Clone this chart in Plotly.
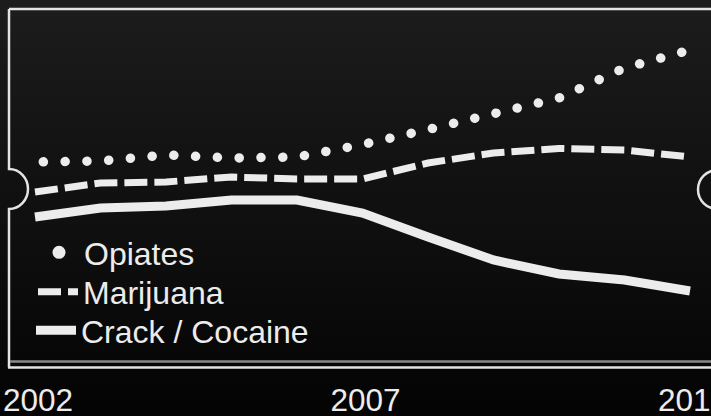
import plotly.graph_objects as go

# ---- data (arbitrary index units) ----
years = [2002, 2003, 2004, 2005, 2006, 2007, 2008, 2009, 2010, 2011, 2012]
opiates = [21.8, 21.9, 22.5, 22.2, 22.3, 23.55, 25.05, 26.6, 28.2, 31.2, 33.0]
marijuana = [18.8, 19.7, 19.8, 20.3, 20.1, 20.1, 21.7, 22.7, 23.15, 23.0, 22.3]
crack_cocaine = [16.3, 17.2, 17.4, 18.0, 18.0, 16.7, 14.3, 12.0, 10.6, 10.0, 8.9]
tick_years = [2002, 2007, 2012]
tick_labels = ["2002", "2007", "2012"]
series_names = ["Opiates", "Marijuana", "Crack / Cocaine"]

W, H = 711, 416
PLOT_H = 380  # plot area height in px (t=0, b=H-PLOT_H)


def pxx(x):
    return x / W


def pxy(y):
    return 1 - y / PLOT_H


FG = "#ececec"
FONT = "Liberation Sans, Arial, Helvetica, sans-serif"
fig = go.Figure()

fig.add_trace(go.Scatter(x=years, y=opiates, mode="lines", name=series_names[0],
                         line=dict(color=FG, width=9.5, dash="0.1px,21.7px"),
                         showlegend=False, hoverinfo="skip"))
fig.add_trace(go.Scatter(x=years, y=marijuana, mode="lines", name=series_names[1],
                         line=dict(color=FG, width=7, dash="23px,7px"),
                         legend="legend2", hoverinfo="skip"))
fig.add_trace(go.Scatter(x=years, y=crack_cocaine, mode="lines", name=series_names[2],
                         line=dict(color=FG, width=9),
                         legend="legend3", hoverinfo="skip"))
# legend-only entry for the dotted series (single dot symbol)
fig.add_trace(go.Scatter(x=[None], y=[None], mode="markers", name=series_names[0],
                         marker=dict(color=FG, size=13), legend="legend"))

shapes = []
# background vertical gradient in bands
top_c, bot_c = 0x1c, 0x04
n = 26
for i in range(n):
    y0 = H * i / n
    y1 = H * (i + 1) / n + 1
    c = round(top_c + (bot_c - top_c) * (i + 0.5) / n)
    col = "#%02x%02x%02x" % (c, c, c)
    shapes.append(dict(type="rect", xref="paper", yref="paper",
                       x0=pxx(-2), x1=pxx(W + 2), y0=pxy(y0), y1=pxy(y1),
                       fillcolor=col, line=dict(width=0), layer="below"))

BL = dict(color="#e4e4e4", width=2.5)
# top edge
shapes.append(dict(type="line", xref="paper", yref="paper",
                   x0=pxx(9), x1=pxx(W + 5), y0=pxy(9), y1=pxy(9), line=BL, layer="below"))
# left edge with notch
lx, cy, rx, ry = 9, 189, 19, 20
k = 0.5523
pts = [
    f"M{pxx(lx)},{pxy(9)}",
    f"L{pxx(lx)},{pxy(cy - ry)}",
    f"C{pxx(lx + k * rx)},{pxy(cy - ry)} {pxx(lx + rx)},{pxy(cy - k * ry)} {pxx(lx + rx)},{pxy(cy)}",
    f"C{pxx(lx + rx)},{pxy(cy + k * ry)} {pxx(lx + k * rx)},{pxy(cy + ry)} {pxx(lx)},{pxy(cy + ry)}",
    f"L{pxx(lx)},{pxy(367.5)}",
]
shapes.append(dict(type="path", xref="paper", yref="paper", path=" ".join(pts),
                   line=BL, layer="below"))
# right notch
shapes.append(dict(type="circle", xref="paper", yref="paper",
                   x0=pxx(698), x1=pxx(737), y0=pxy(170), y1=pxy(209),
                   line=BL, layer="below"))
# bottom double rule
shapes.append(dict(type="line", xref="paper", yref="paper",
                   x0=pxx(10), x1=pxx(W + 5), y0=pxy(361.5), y1=pxy(361.5),
                   line=dict(color="#8a8a8a", width=2.5), layer="below"))
shapes.append(dict(type="line", xref="paper", yref="paper",
                   x0=pxx(8), x1=pxx(W + 5), y0=pxy(367.5), y1=pxy(367.5),
                   line=BL, layer="below"))


def leg(x0, ycenter):
    return dict(x=pxx(x0 - 1), y=pxy(ycenter), xanchor="left", yanchor="middle",
                bgcolor="rgba(0,0,0,0)", borderwidth=0,
                font=dict(family=FONT, size=32, color=FG), itemwidth=40)


slope = 65.5
fig.update_layout(
    width=W, height=H,
    margin=dict(l=0, r=0, t=0, b=H - PLOT_H, pad=0),
    paper_bgcolor="#0c0c0c", plot_bgcolor="rgba(0,0,0,0)",
    shapes=shapes,
    showlegend=True,
    legend=leg(35, 252.5),
    legend2=leg(34, 292),
    legend3=leg(32, 330.5),
    xaxis=dict(range=[2002 - 35 / slope, 2012 + 21 / slope], tickmode="array",
               tickvals=tick_years, ticktext=tick_labels, showgrid=False,
               zeroline=False, showline=False, ticks="", automargin=False,
               ticklabeloverflow="allow", ticklabelshift=3, ticklabelstandoff=-2,
               tickfont=dict(family=FONT, size=31.5, color=FG),
               fixedrange=True),
    yaxis=dict(range=[0, 38], visible=False, automargin=False, fixedrange=True),
    template="none",
)

css = ("body{margin:0!important;padding:0}"
       ".scatterlayer .trace:first-child path.js-line{stroke-linecap:round;stroke-dashoffset:13.5px}")
post = ("var s=document.createElement('style');s.textContent='" + css +
        "';document.head.appendChild(s);document.body.style.margin='0';")
fig.write_html("out.html", post_script=post, config={"displayModeBar": False})
